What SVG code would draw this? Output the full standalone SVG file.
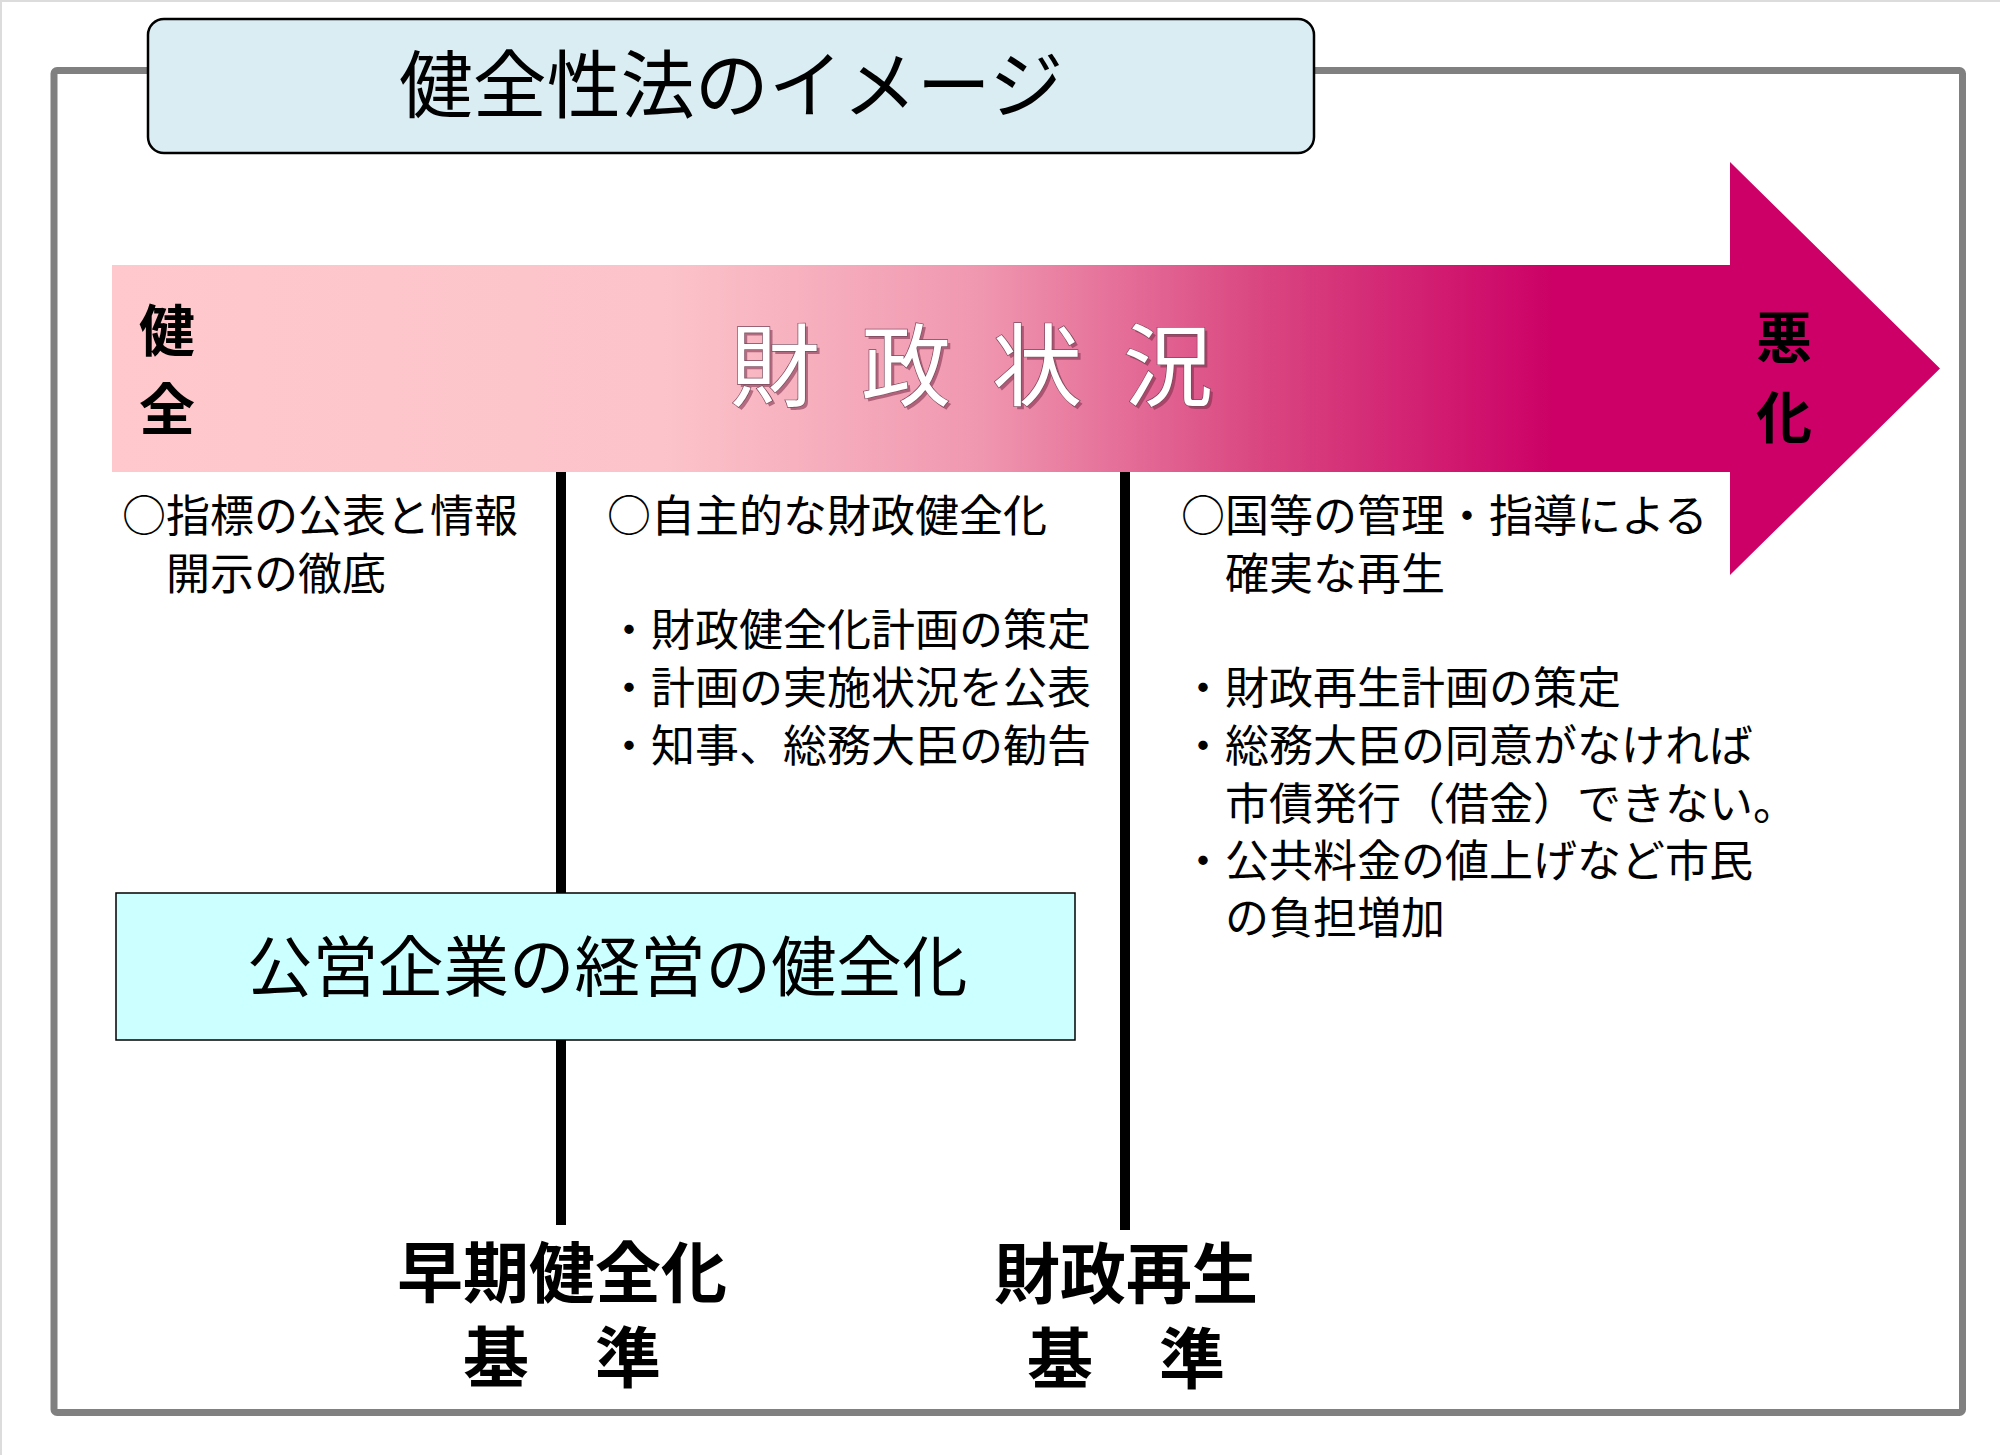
<svg xmlns="http://www.w3.org/2000/svg" width="2000" height="1455" viewBox="0 0 2000 1455">
<style>
text{font-family:"Noto Sans CJK JP","Noto Sans CJK SC",sans-serif;fill:#000}
.body{font-size:44px}
.bold{font-weight:bold}
.vline{stroke:#000;stroke-width:10;fill:none}
</style>
<defs>
<linearGradient id="grad" gradientUnits="userSpaceOnUse" x1="112" y1="0" x2="1940" y2="0">
<stop offset="0" stop-color="#fec8cc"/>
<stop offset="0.3" stop-color="#fcc4ca"/>
<stop offset="0.475" stop-color="#f097b0"/>
<stop offset="0.63" stop-color="#d94580"/>
<stop offset="0.79" stop-color="#cc0066"/>
<stop offset="1" stop-color="#cc0066"/>
</linearGradient>
</defs>
<rect x="0" y="0" width="2000" height="1455" fill="#fff"/>
<line x1="0" y1="1" x2="2000" y2="1" stroke="#dcdcdc" stroke-width="2"/>
<line x1="1" y1="0" x2="1" y2="1455" stroke="#dcdcdc" stroke-width="2"/>

<g id="frame">
<rect x="54" y="70.5" width="1908.5" height="1342" fill="none" stroke="#808080" stroke-width="7" rx="3"/>
</g>

<g id="title">
<rect x="148" y="19" width="1166" height="134" rx="16" fill="#daedf3" stroke="#000" stroke-width="2.5"/>
<text x="731" y="112" font-size="74" text-anchor="middle">健全性法のイメージ</text>
</g>

<g id="arrow">
<polygon points="112,265 1730,265 1730,162 1940,368.5 1730,575 1730,472 112,472" fill="url(#grad)"/>
<text class="bold" font-size="56" text-anchor="middle"><tspan x="167" y="351">健</tspan><tspan x="167" y="430">全</tspan></text>
<text class="bold" font-size="56" text-anchor="middle"><tspan x="1784" y="358">悪</tspan><tspan x="1784" y="438">化</tspan></text>
<text x="733" y="402" font-size="90" letter-spacing="41" opacity="0.55" style="fill:#7a2e4a">財政状況</text>
<text x="730" y="399" font-size="90" letter-spacing="41" style="fill:#fff;stroke:#7a4a5c;stroke-width:1.4;paint-order:stroke">財政状況</text>
</g>

<g id="connectors">
<line class="vline" x1="561" y1="472" x2="561" y2="1225"/>
<line class="vline" x1="1125" y1="472" x2="1125" y2="1230"/>
</g>

<g id="col-left">
<text class="body"><tspan x="122" y="532">○指標の公表と情報</tspan><tspan x="166" y="590">開示の徹底</tspan></text>
</g>

<g id="col-middle">
<text class="body" x="607" y="532">○自主的な財政健全化</text>
<text class="body"><tspan x="607" y="646">・財政健全化計画の策定</tspan><tspan x="607" y="704">・計画の実施状況を公表</tspan><tspan x="607" y="762">・知事、総務大臣の勧告</tspan></text>
</g>

<g id="col-right">
<text class="body"><tspan x="1181" y="532">○国等の管理・指導による</tspan><tspan x="1225" y="590">確実な再生</tspan></text>
<text class="body"><tspan x="1181" y="704">・財政再生計画の策定</tspan><tspan x="1181" y="762">・総務大臣の同意がなければ</tspan><tspan x="1225" y="820">市債発行（借金）できない。</tspan><tspan x="1181" y="877">・公共料金の値上げなど市民</tspan><tspan x="1225" y="934">の負担増加</tspan></text>
</g>

<g id="public-enterprise">
<rect x="116" y="893" width="959" height="147" fill="#ccffff" stroke="#000" stroke-width="1.5"/>
<text x="247" y="991" font-size="65.5">公営企業の経営の健全化</text>
</g>

<g id="early-standard">
<text class="bold" font-size="66" text-anchor="middle"><tspan x="562" y="1297">早期健全化</tspan><tspan x="562" y="1382">基　準</tspan></text>
</g>

<g id="rebuild-standard">
<text class="bold" font-size="66" text-anchor="middle"><tspan x="1126" y="1298">財政再生</tspan><tspan x="1126" y="1383">基　準</tspan></text>
</g>
</svg>
